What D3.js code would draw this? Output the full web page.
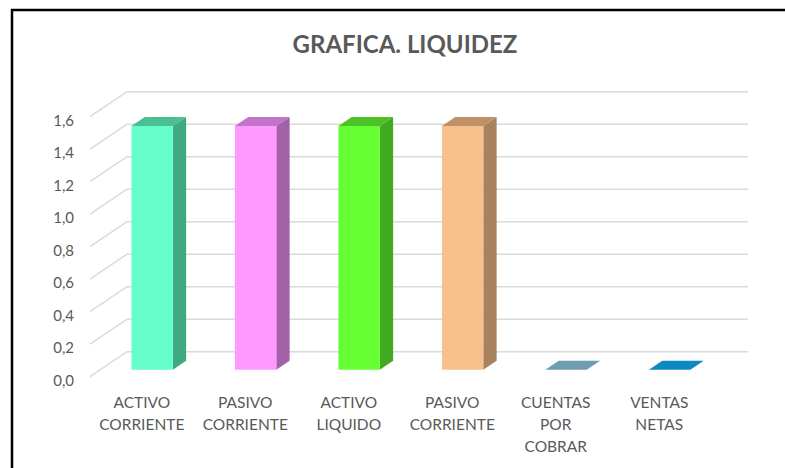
<!DOCTYPE html>
<html>
<head>
<meta charset="utf-8">
<script src="https://d3js.org/d3.v7.min.js"></script>
<style>
  body { margin: 0; background: #fff; }
  text { font-family: Lato, "Open Sans", sans-serif; fill: #595959; }
</style>
</head>
<body>
<svg width="785" height="468"></svg>
<script>
// chart data
var categories = ["ACTIVO CORRIENTE", "PASIVO CORRIENTE", "ACTIVO LIQUIDO", "PASIVO CORRIENTE", "CUENTAS POR COBRAR", "VENTAS NETAS"];
var values = [1.5, 1.5, 1.5, 1.5, 0, 0];
var yTicks = [0, 0.2, 0.4, 0.6, 0.8, 1.0, 1.2, 1.4, 1.6];

// colours of the three visible faces of each bar
var frontColors = ["#66ffcc", "#ff99ff", "#66ff33", "#f8c08c", "#6e9db2", "#0e88c0"];
var sideColors  = ["#3fa982", "#a362a8", "#41aa20", "#a8825c", "#5a8296", "#0b6f9c"];
var topColors   = ["#4bbf92", "#c274c8", "#4dc226", "#bf9166", "#6e9db2", "#0e88c0"];

var svg = d3.select("svg");

// frame around the picture
svg.append("path")
   .attr("d", "M12,470 L12,10 L790,10")
   .attr("fill", "none")
   .attr("stroke", "#000")
   .attr("stroke-width", 2.5);

// 3d depth of the walls
var DX = 37, DY = -25;
var f0 = 0.28, f1 = 0.64;   // front and back of the bars inside the depth

var xs = d3.scaleBand().domain(d3.range(categories.length))
           .range([90, 711]).paddingInner(0.6).paddingOuter(0.3);
var ys = d3.scaleLinear().domain([0, 1.6]).range([376.7, 116.7]);

function proj(x, v, t) { return [x + DX * t, ys(v) + DY * t]; }
function poly(pts) { return "M" + pts.map(function(p) { return p.join(","); }).join("L") + "Z"; }

var fmt = d3.formatLocale({decimal: ",", thousands: ".", grouping: [3], currency: ["", ""]}).format(".1f");

// gridlines: side wall diagonal and back wall
svg.append("g").selectAll("path")
   .data(yTicks).enter()
   .append("path")
   .attr("d", function(d) {
       var a = proj(90, d, 0), b = proj(90, d, 1), c = proj(711, d, 1);
       return "M" + a + "L" + b + "L" + c;
   })
   .attr("fill", "none")
   .attr("stroke", "#dadada")
   .attr("stroke-width", 1.5);

// y labels
svg.append("g").selectAll("text")
   .data(yTicks).enter()
   .append("text")
   .attr("x", 74)
   .attr("y", function(d) { return ys(d) + 9; })
   .attr("text-anchor", "end")
   .style("font-size", "15px")
   .text(function(d) { return fmt(d); });

// bars
var bars = svg.append("g").selectAll("g")
   .data(values).enter()
   .append("g");

bars.append("path")
    .attr("d", function(d, i) {
        var x = xs(i) + xs.bandwidth();
        return poly([proj(x, 0, f0), proj(x, 0, f1), proj(x, d, f1), proj(x, d, f0)]);
    })
    .attr("fill", function(d, i) { return sideColors[i]; });

bars.append("path")
    .attr("d", function(d, i) {
        var x = xs(i), w = xs.bandwidth();
        return poly([proj(x, d, f0), proj(x + w, d, f0), proj(x + w, d, f1), proj(x, d, f1)]);
    })
    .attr("fill", function(d, i) { return topColors[i]; });

bars.append("path")
    .attr("d", function(d, i) {
        var x = xs(i), w = xs.bandwidth();
        return poly([proj(x, 0, f0), proj(x + w, 0, f0), proj(x + w, d, f0), proj(x, d, f0)]);
    })
    .attr("fill", function(d, i) { return frontColors[i]; });

// category labels, one word per line
svg.append("g").selectAll("text")
   .data(categories).enter()
   .append("text")
   .attr("text-anchor", "middle")
   .style("font-size", "15.5px")
   .each(function(d, i) {
       var t = d3.select(this);
       d.split(" ").forEach(function(w, k) {
           t.append("tspan")
            .attr("x", xs(i) + xs.bandwidth() / 2)
            .attr("y", 408 + k * 22)
            .text(w);
       });
   });

// title
svg.append("text")
   .attr("x", 405)
   .attr("y", 53)
   .attr("text-anchor", "middle")
   .style("font-size", "24px")
   .style("font-weight", "bold")
   .text("GRAFICA. LIQUIDEZ");
</script>
</body>
</html>
